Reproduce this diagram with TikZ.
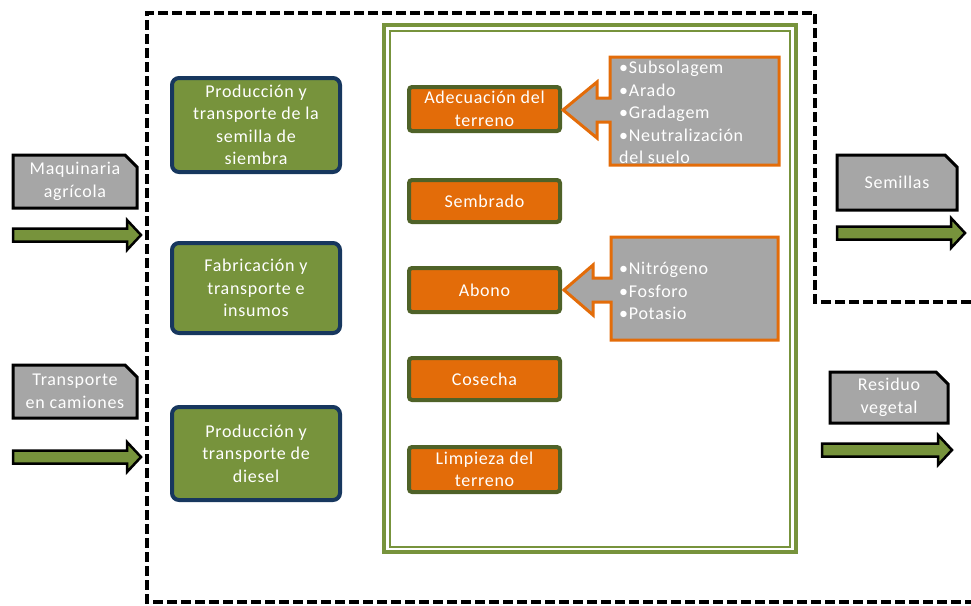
\documentclass[tikz,border=0pt]{standalone}
\usepackage{fontspec}
\setmainfont{Carlito}[LetterSpace=4]
\usetikzlibrary{shapes.misc}
\definecolor{olivegreen}{HTML}{77933C}
\definecolor{navyblue}{HTML}{17375E}
\definecolor{orangefill}{HTML}{E36C09}
\definecolor{darkolive}{HTML}{4F6228}
\definecolor{greyfill}{HTML}{A6A6A6}
\newcommand{\BlkArrow}[3]{%
  \draw[blockarrow] (#1,{#3-6.5}) -- ({#2-14},{#3-6.5}) -- ({#2-14},{#3-15}) -- (#2,#3)
    -- ({#2-14},{#3+15}) -- ({#2-14},{#3+6.5}) -- (#1,{#3+6.5}) -- cycle;}
\begin{document}
\begin{tikzpicture}[x=1pt,y=-1pt,
  every node/.style={font=\fontsize{18}{22.5}\selectfont, text=white, align=center, inner sep=0pt},
  boundary/.style={draw=black, line width=3.2pt, dash pattern=on 10pt off 4pt},
  framestyle/.style={draw=olivegreen, line width=3.5pt},
  gbox/.style={draw=navyblue, line width=4pt, fill=olivegreen, rounded corners=7pt,
    minimum width=168pt, minimum height=94pt},
  obox/.style={draw=darkolive, line width=4pt, fill=orangefill, rounded corners=3pt,
    minimum width=151pt, minimum height=44pt},
  greybox/.style={chamfered rectangle, chamfered rectangle corners=north east,
    chamfered rectangle xsep=6pt, chamfered rectangle ysep=6pt,
    draw=black, line width=3pt, fill=greyfill},
  blockarrow/.style={draw=black, line width=2.5pt, fill=olivegreen, line join=miter},
  callout/.style={draw=orangefill, line width=3pt, fill=greyfill, line join=miter},
  listtext/.style={align=left, anchor=north west}]
\useasboundingbox (0,0) rectangle (971,605);

% dashed system boundary
\draw[boundary] (971,302) -- (815,302) -- (815,13) -- (147,13) -- (147,602) -- (971,602);

% green double frame
\draw[framestyle] (384,25) rectangle (796,552);
\draw[framestyle, line width=2.5pt] (390,31) rectangle (790,547);

% left green boxes
\node[gbox] (semilla) at (256,125) {Producción y\\transporte de la\\semilla de\\siembra};
\node[gbox, minimum height=90pt] (insumos) at (256,288) {Fabricación y\\transporte e\\insumos};
\node[gbox, minimum height=93pt] (diesel) at (256,453.5) {Producción y\\transporte de\\diesel};

% orange process boxes
\node[obox] (adecuacion) at (484.5,109) {Adecuación del\\terreno};
\node[obox, minimum height=42pt] (sembrado) at (484.5,201) {Sembrado};
\node[obox] (abono) at (484.5,290) {Abono};
\node[obox, minimum height=42pt] (cosecha) at (484.5,379) {Cosecha};
\node[obox, minimum height=45pt] (limpieza) at (484.5,469.5) {Limpieza del\\terreno};

% callouts
\draw[callout] (610,57) -- (779,57) -- (779,165) -- (610,165) -- (610,122) -- (597,122)
  -- (597,138) -- (563,110) -- (597,82) -- (597,98) -- (610,98) -- cycle;
\node[listtext] (lista1) at (619,61) {•Subsolagem\\•Arado\\•Gradagem\\•Neutralización\\del suelo};
\draw[callout] (611,237) -- (778,237) -- (778,340) -- (611,340) -- (611,302) -- (593,302)
  -- (593,315) -- (564,290) -- (593,265) -- (593,278) -- (611,278) -- cycle;
\node[listtext] (lista2) at (619,262) {•Nitrógeno\\•Fosforo\\•Potasio};

% inputs / outputs
\node[greybox, minimum width=124pt, minimum height=53pt] (maquinaria) at (75,181.5) {Maquinaria\\agrícola};
\node[greybox, minimum width=124pt, minimum height=53pt] (camiones) at (75,391.5) {Transporte\\en camiones};
\node[greybox, minimum width=120pt, minimum height=55pt] (semillas) at (897,182.5) {Semillas};
\node[greybox, minimum width=118pt, minimum height=51pt] (residuo) at (889,397.5) {Residuo\\vegetal};

\BlkArrow{13}{141}{235}
\BlkArrow{13}{141}{457}
\BlkArrow{837}{965}{233}
\BlkArrow{822}{952}{450}
\end{tikzpicture}
\end{document}
